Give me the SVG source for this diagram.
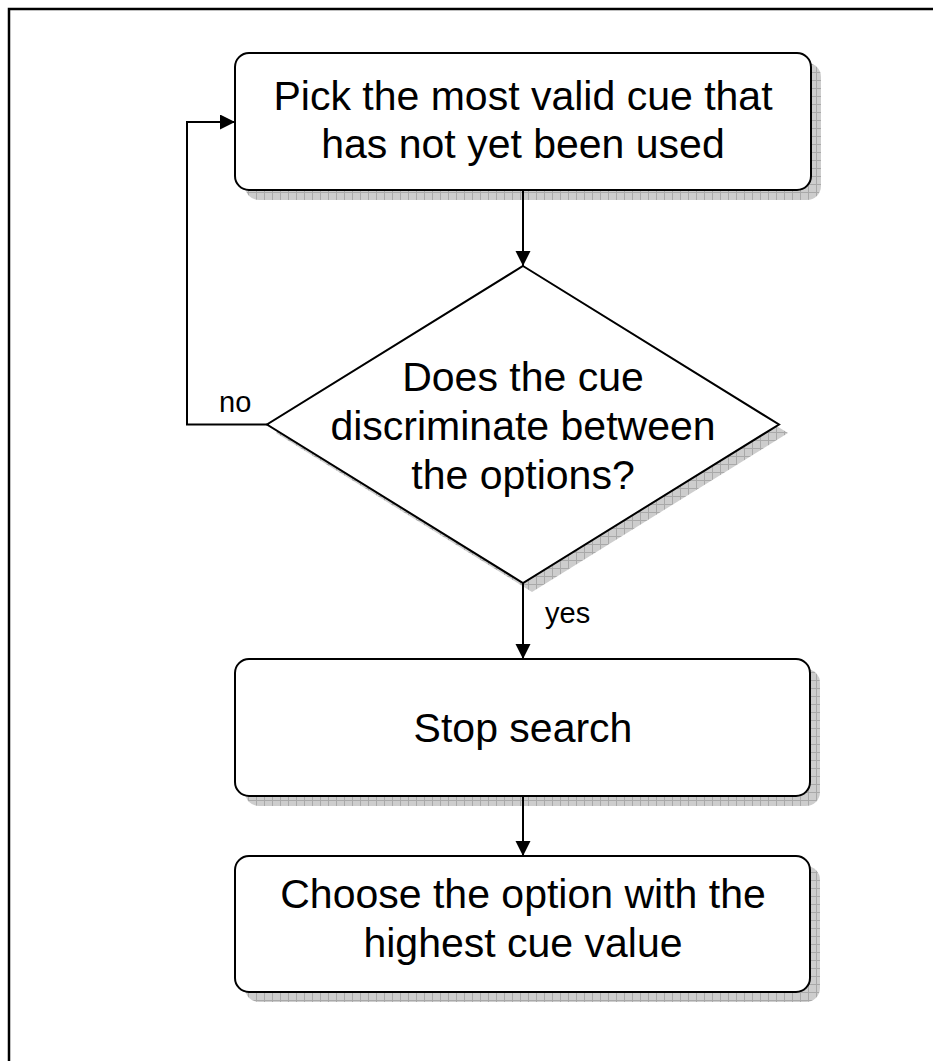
<svg xmlns="http://www.w3.org/2000/svg" width="933" height="1061" viewBox="0 0 933 1061">
<style>
.box{fill:#fff;stroke:#000;stroke-width:2}
.shadow{fill:url(#hatch);stroke:none}
.t{font-family:"Liberation Sans",Arial,Helvetica,sans-serif;font-size:41px;fill:#000;text-anchor:middle}
.lbl{font-family:"Liberation Sans",Arial,Helvetica,sans-serif;font-size:29px;fill:#000}
.conn{fill:none;stroke:#000;stroke-width:2}
</style>
<defs>
<pattern id="hatch" width="8" height="8" patternUnits="userSpaceOnUse">
<rect width="8" height="8" fill="#cdcdcd"/>
<path d="M0 0.5H8M0.5 0V8" stroke="#a9a9a9" stroke-width="1"/>
</pattern>
<marker id="arr" markerWidth="16" markerHeight="16" refX="15" refY="7.5" orient="auto" markerUnits="userSpaceOnUse">
<path d="M0 0L15 7.5L0 15Z" fill="#000"/>
</marker>
</defs>
<rect width="933" height="1061" fill="#fff"/>
<path d="M9 1075V9H945" fill="none" stroke="#000" stroke-width="2.5"/>
<g id="node-pick">
<rect class="shadow" x="245" y="63" width="576" height="137" rx="14"/>
<rect class="box" x="235" y="53" width="576" height="137" rx="14"/>
<text class="t" x="523" y="110">Pick the most valid cue that</text>
<text class="t" x="523" y="158">has not yet been used</text>
</g>
<g id="node-decide">
<polygon class="shadow" points="532,275 788,433 532,592 276,433"/>
<polygon class="box" points="523,266 779,424.5 523,583 267,424.5"/>
<text class="t" x="523" y="391">Does the cue</text>
<text class="t" x="523" y="440">discriminate between</text>
<text class="t" x="523" y="489">the options?</text>
</g>
<g id="node-stop">
<rect class="shadow" x="245" y="669" width="575" height="137" rx="14"/>
<rect class="box" x="235" y="659" width="575" height="137" rx="14"/>
<text class="t" x="523" y="742">Stop search</text>
</g>
<g id="node-choose">
<rect class="shadow" x="245" y="866" width="575" height="136" rx="14"/>
<rect class="box" x="235" y="856" width="575" height="136" rx="14"/>
<text class="t" x="523" y="908">Choose the option with the</text>
<text class="t" x="523" y="957">highest cue value</text>
</g>
<g id="connectors">
<path class="conn" d="M523 190V266" marker-end="url(#arr)"/>
<path class="conn" d="M523 583V659" marker-end="url(#arr)"/>
<path class="conn" d="M523 796V856" marker-end="url(#arr)"/>
<path class="conn" d="M267 424.5H187V122H235" marker-end="url(#arr)"/>
<text class="lbl" x="219" y="412">no</text>
<text class="lbl" x="545" y="623">yes</text>
</g>
</svg>
